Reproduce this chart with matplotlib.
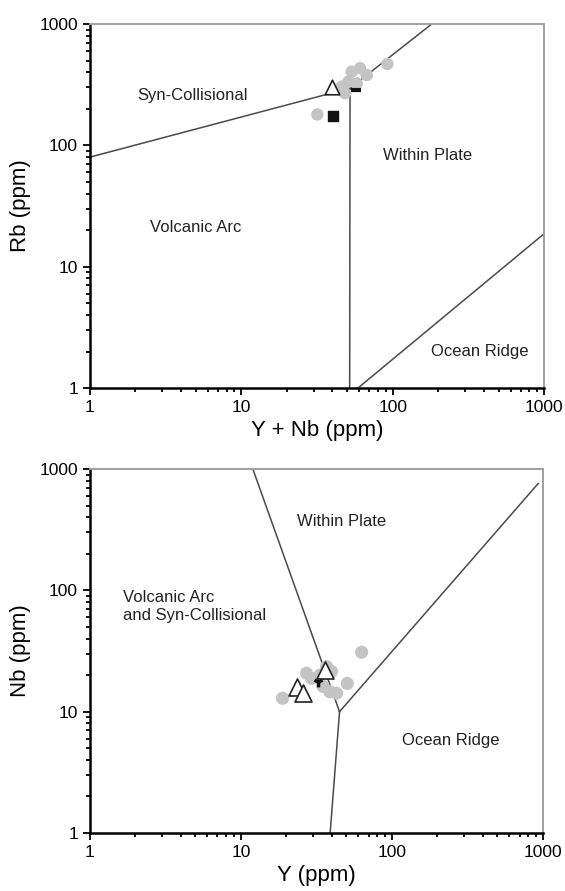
import matplotlib
matplotlib.use("Agg")
import matplotlib.pyplot as plt

plt.rcParams['font.family'] = ['Liberation Sans', 'DejaVu Sans']

# --- top panel: Rb vs Y+Nb ---
top_circ_x = [31.8, 48.5, 51, 53.6, 60.9, 67.4, 92.3, 57.9, 46]
top_circ_y = [180, 269, 335, 405, 432, 380, 469, 324, 305]
top_sq_x = [40.6]
top_sq_y = [175]
top_tri_x = [39.6]
top_tri_y = [301]
top_dash_x = [57]
top_dash_y = [286]

top_lines = [
    ([1, 52.3], [80, 296]),
    ([52.3, 181], [296, 1000]),
    ([52, 52.3], [1, 296]),
    ([59, 1000], [1, 18.7]),
]
top_labels = [("Syn-Collisional", 2.05, 260), ("Volcanic Arc", 2.5, 21),
              ("Within Plate", 86, 82), ("Ocean Ridge", 180, 2.0)]

# --- bottom panel: Nb vs Y ---
bot_circ_x = [18.9, 27.2, 29.4, 36.9, 39.8, 35.1, 38.8, 43, 50.6, 63, 33.4]
bot_circ_y = [12.9, 20.7, 18.8, 23.5, 21.4, 16.1, 14.6, 14.2, 17.1, 30.9, 20]
bot_tri_x = [23.4, 25.9, 36]
bot_tri_y = [16.1, 14.3, 22]
bot_dash_x = [32.5]
bot_dash_y = [17.7]

bot_lines = [
    ([12, 45], [1000, 10]),
    ([39, 45], [1, 10]),
    ([45, 930], [10, 760]),
]
bot_labels = [("Within Plate", 23.5, 370), ("Volcanic Arc\nand Syn-Collisional", 1.66, 74),
              ("Ocean Ridge", 116, 5.8)]

fig = plt.figure(figsize=(5.65, 8.91), dpi=100)
ax1 = fig.add_axes([0.159, 0.5645, 0.804, 0.4085])
ax2 = fig.add_axes([0.159, 0.0651, 0.802, 0.4085])

def style(ax):
    ax.set_xscale('log')
    ax.set_yscale('log')
    ax.set_xlim(1, 1000)
    ax.set_ylim(1, 1000)
    ax.set_xticks([1, 10, 100, 1000])
    ax.set_yticks([1, 10, 100, 1000])
    ax.set_xticklabels(['1', '10', '100', '1000'])
    ax.set_yticklabels(['1', '10', '100', '1000'])
    ax.tick_params(which='major', direction='out', length=5, width=1.3, labelsize=12.5, color='black')
    ax.tick_params(which='minor', direction='out', length=3, width=1.3, color='black')
    ax.tick_params(axis='y', which='minor', labelleft=False)
    ax.tick_params(axis='x', which='minor', labelbottom=False)
    for s in ['left', 'bottom']:
        ax.spines[s].set_linewidth(1.8)
        ax.spines[s].set_color('black')
    for s in ['top', 'right']:
        ax.spines[s].set_linewidth(1.4)
        ax.spines[s].set_color('#a0a0a0')

for ax, lines in [(ax1, top_lines), (ax2, bot_lines)]:
    style(ax)
    for xs, ys in lines:
        ax.plot(xs, ys, color='#4a4a4a', lw=1.1, zorder=2)

ax1.scatter(top_circ_x, top_circ_y, s=80, color='#c4c4c4', edgecolors='none', zorder=3)
ax1.scatter(top_sq_x, top_sq_y, s=55, marker='s', color='#111111', zorder=4)
ax1.scatter(top_tri_x, top_tri_y, s=110, marker='^', facecolors='white', edgecolors='#222222', lw=1.2, zorder=4)
ax1.scatter(top_dash_x, top_dash_y, s=60, marker='_', color='#111111', lw=3, zorder=5)

ax2.scatter(bot_circ_x, bot_circ_y, s=90, color='#c4c4c4', edgecolors='none', zorder=3)
ax2.scatter(bot_tri_x, bot_tri_y, s=150, marker='^', facecolors='white', edgecolors='#222222', lw=1.2, zorder=4)
ax2.scatter(bot_dash_x, bot_dash_y, s=50, marker='1', color='#111111', lw=2.5, zorder=5)

for t, x, y in top_labels:
    ax1.text(x, y, t, fontsize=12, color='#222222', ha='left', va='center')
for t, x, y in bot_labels:
    ax2.text(x, y, t, fontsize=12, color='#222222', ha='left', va='center', linespacing=1.25)

ax1.set_xlabel('Y + Nb (ppm)', fontsize=16, labelpad=4)
ax1.set_ylabel('Rb (ppm)', fontsize=16, labelpad=6)
ax2.set_xlabel('Y (ppm)', fontsize=16, labelpad=4)
ax2.set_ylabel('Nb (ppm)', fontsize=16, labelpad=6)

fig.savefig('out.png', dpi=100, facecolor='white')
